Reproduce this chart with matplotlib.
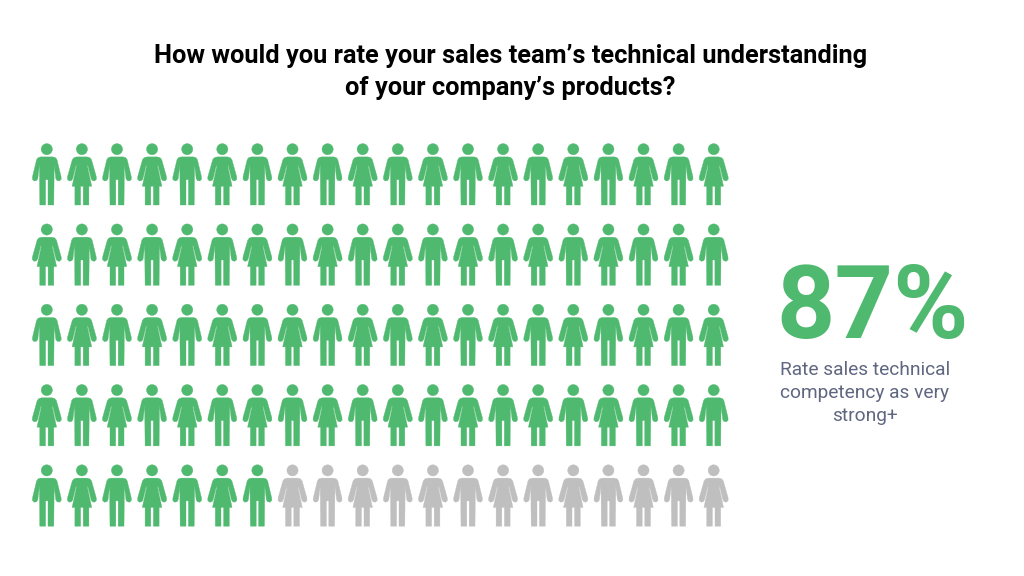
import matplotlib
matplotlib.use("Agg")
import matplotlib.pyplot as plt
from matplotlib.path import Path
from matplotlib.patches import PathPatch
from matplotlib.transforms import Affine2D

title_lines = ["How would you rate your sales team’s technical understanding", "of your company’s products?"]
percent_value = 87
caption_lines = ["Rate sales technical", "competency as very", "strong+"]
n_rows = 5
n_cols = 20
green = "#4fb96f"
grey = "#bfbfbf"


def closed(points):
    verts = list(points) + [points[0]]
    codes = [Path.MOVETO] + [Path.LINETO] * (len(points) - 1) + [Path.CLOSEPOLY]
    return Path(verts, codes)


man_half = [(0, 13.2), (6.2, 13.2), (8.8, 14.0), (10.2, 16.0), (14.3, 33.0), (14.4, 35.6), (12.6, 37.3),
            (10.2, 36.8), (9.0, 35.0), (7.4, 21.0), (7.0, 61.3), (1.2, 61.3), (1.2, 36.0), (0, 36.0)]
woman_half = [(0, 13.2), (5.2, 13.2), (8.0, 14.0), (9.6, 16.0), (14.4, 33.0), (14.5, 35.6), (12.7, 37.3),
              (10.4, 36.8), (9.2, 35.0), (5.8, 21.0), (5.6, 23.0), (9.8, 42.6), (7.0, 42.6), (7.0, 61.3),
              (1.3, 61.3), (1.3, 42.6), (0, 42.6)]


def icon(half):
    body = closed(half + [(-x, y) for x, y in reversed(half[1:-1])])
    return Path.make_compound_path(Path.circle((0, 5.5), 5.6), body)


man = icon(man_half)
woman = icon(woman_half)

fig = plt.figure(figsize=(10.24, 5.76), dpi=100, facecolor="white")
ax = fig.add_axes([0, 0, 1, 1])
ax.set_xlim(0, 1024)
ax.set_ylim(576, 0)
ax.axis("off")

x0, dx = 46.8, 35.1
y0, dy = 143.7, 80.3
count = 0
for row in range(n_rows):
    for col in range(n_cols):
        shape = man if (row + col) % 2 == 0 else woman
        count += 1
        colour = green if count <= percent_value else grey
        tr = Affine2D().translate(x0 + col * dx, y0 + row * dy) + ax.transData
        ax.add_patch(PathPatch(shape, facecolor=colour, edgecolor=colour, lw=0.25, transform=tr))

for text, y in zip(title_lines, (63.5, 95.5)):
    ax.text(510.5, y, text, ha="center", va="baseline", family="Roboto", weight="bold",
            fontsize=18.25, color="black")

ax.text(872.5, 338, f"{percent_value}%", ha="center", va="baseline", family="Roboto", weight="bold",
        fontsize=73.5, color=green)

for text, y in zip(caption_lines, (375, 398, 421)):
    ax.text(865, y, text, ha="center", va="baseline", family="Roboto", fontsize=13.8, color="#5f6780")

fig.savefig("out.png", dpi=100, facecolor="white")
